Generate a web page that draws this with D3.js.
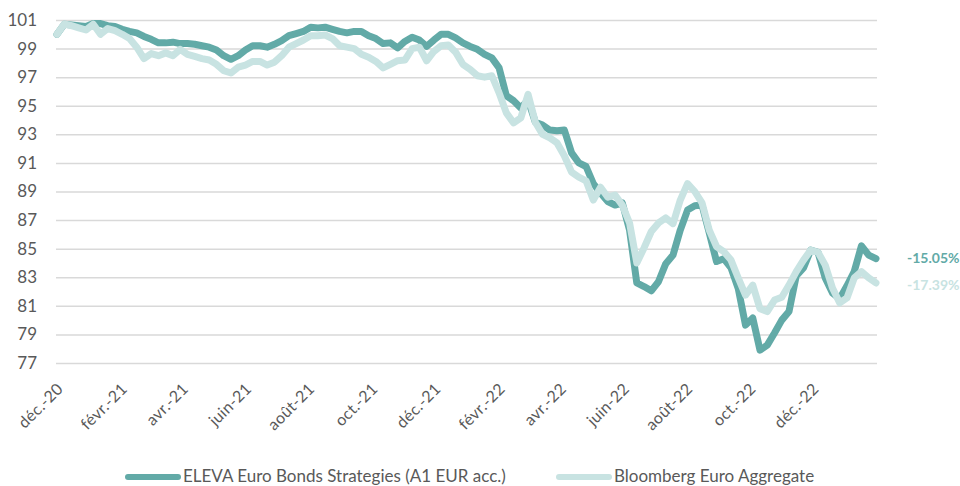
<!DOCTYPE html>
<html>
<head>
<meta charset="utf-8">
<script src="https://cdn.jsdelivr.net/npm/d3@7"></script>
<style>
  body { margin: 0; background: #fff; }
  text { font-family: Lato, "Open Sans", sans-serif; }
</style>
</head>
<body>
<div id="graph_plot"></div>
<script>
// weekly values, first point = 1 Dec 2020
var startDate = new Date(2020, 11, 1);
var endDate = new Date(2023, 1, 1);

var eleva = [
  100.0, 100.7, 100.65, 100.6, 100.55, 100.75, 100.75, 100.6, 100.55, 100.35,
  100.2, 100.1, 99.85, 99.65, 99.4, 99.4, 99.45, 99.35, 99.35, 99.3,
  99.2, 99.1, 98.9, 98.5, 98.25, 98.5, 98.9, 99.2, 99.2, 99.1,
  99.3, 99.55, 99.9, 100.05, 100.2, 100.5, 100.45, 100.5, 100.35, 100.2,
  100.1, 100.2, 100.2, 99.9, 99.7, 99.35, 99.4, 99.05, 99.5, 99.8,
  99.6, 99.15, 99.6, 100.0, 100.0, 99.75, 99.4, 99.15, 98.95, 98.6,
  98.35, 97.65, 95.7, 95.35, 94.85, 95.4, 93.85, 93.65, 93.3, 93.25,
  93.3, 91.7, 91.0, 90.75, 89.55, 88.9, 88.3, 88.05, 88.2, 86.3,
  82.6, 82.35, 82.05, 82.7, 83.95, 84.55, 86.3, 87.7, 88.0, 88.05,
  86.1, 84.1, 84.3, 83.65, 82.2, 79.65, 80.15, 77.9, 78.25, 79.1,
  80.0, 80.6, 83.1, 83.65, 84.9, 84.75, 82.95, 81.9, 81.5, 82.4,
  83.4, 85.2, 84.55, 84.3
];

var bloomberg = [
  100.0, 100.72, 100.6, 100.45, 100.3, 100.7, 100.0, 100.4, 100.25, 100.0,
  99.7, 99.1, 98.3, 98.65, 98.5, 98.7, 98.5, 98.95, 98.6, 98.45,
  98.3, 98.2, 97.9, 97.45, 97.3, 97.7, 97.85, 98.1, 98.1, 97.85,
  98.05, 98.5, 99.1, 99.35, 99.6, 99.9, 99.9, 99.95, 99.7, 99.2,
  99.1, 99.0, 98.6, 98.4, 98.1, 97.65, 97.9, 98.15, 98.2, 99.0,
  99.1, 98.15, 98.8, 99.2, 99.25, 98.75, 97.9, 97.55, 97.1, 97.0,
  97.1, 95.9, 94.5, 93.8, 94.15, 95.8, 93.85, 93.0, 92.75, 92.4,
  91.5, 90.35, 90.0, 89.75, 88.4, 89.3, 88.6, 88.75, 88.05, 86.8,
  84.0, 85.05, 86.2, 86.8, 87.15, 86.75, 88.4, 89.55, 89.0, 88.2,
  86.3, 85.15, 84.8, 84.2, 82.95, 81.75, 82.45, 80.8, 80.6, 81.4,
  81.6, 82.45, 83.4, 84.2, 84.9, 84.75, 83.85, 82.25, 81.2, 81.55,
  82.95, 83.4, 82.95, 82.6
];

var seriesNames = ["ELEVA Euro Bonds Strategies (A1 EUR acc.)", "Bloomberg Euro Aggregate"];
var endLabels = ["-15.05%", "-17.39%"];
var yTicks = [77, 79, 81, 83, 85, 87, 89, 91, 93, 95, 97, 99, 101];
var monthLabels = ["déc.-20", "févr.-21", "avr.-21", "juin-21", "août-21", "oct.-21", "déc.-21",
  "févr.-22", "avr.-22", "juin-22", "août-22", "oct.-22", "déc.-22"];

var dark = "#62aaa7", light = "#c8e3e2", grey = "#595959";

var W = 960, H = 486;
var svg = d3.select("#graph_plot").append("svg")
    .attr("width", W)
    .attr("height", H);

var x = d3.scaleTime().domain([startDate, endDate]).range([57, 877]);
var y = d3.scaleLinear().domain([77, 101]).range([363, 20]);

var dates = eleva.map((d, i) => d3.timeDay.offset(startDate, 7 * i));
var rows = dates.map((d, i) => ({ date: d, a: eleva[i], b: bloomberg[i] }));

// gridlines + y labels
var yAxis = svg.append("g")
    .attr("transform", "translate(56,0)")
    .call(d3.axisLeft(y).tickValues(yTicks).tickSize(-821).tickPadding(19));
yAxis.select(".domain").remove();
yAxis.selectAll(".tick line").attr("stroke", "#d9d9d9").attr("stroke-width", 1.5);
yAxis.selectAll(".tick text")
    .attr("fill", grey)
    .style("font-size", "17px")
    .style("font-family", "Lato, sans-serif");

// x labels, every 2 months
var tickDates = monthLabels.map((m, i) => d3.timeMonth.offset(startDate, 2 * i));
svg.append("g").selectAll("text")
    .data(tickDates)
    .join("text")
    .attr("transform", d => `translate(${x(d) + 7},${390}) rotate(-45)`)
    .attr("text-anchor", "end")
    .attr("fill", grey)
    .style("font-size", "16px")
    .style("letter-spacing", "0.3px")
    .text((d, i) => monthLabels[i]);

var lineA = d3.line().x(d => x(d.date)).y(d => y(d.a));
var lineB = d3.line().x(d => x(d.date)).y(d => y(d.b));

svg.append("path")
    .datum(rows)
    .attr("fill", "none")
    .attr("stroke", dark)
    .attr("stroke-width", 7)
    .attr("stroke-linejoin", "round")
    .attr("stroke-linecap", "round")
    .attr("d", lineA);

svg.append("path")
    .datum(rows)
    .attr("fill", "none")
    .attr("stroke", light)
    .attr("stroke-width", 7)
    .attr("stroke-linejoin", "round")
    .attr("stroke-linecap", "round")
    .attr("d", lineB);

// end labels
var last = rows[rows.length - 1];
svg.append("text")
    .attr("x", 907).attr("y", y(last.a) + 4)
    .attr("fill", dark)
    .style("font-size", "14px").style("font-weight", "bold")
    .text(endLabels[0]);
svg.append("text")
    .attr("x", 907).attr("y", y(last.b) + 7)
    .attr("fill", light)
    .style("font-size", "14px").style("font-weight", "bold")
    .text(endLabels[1]);

// legend
var legend = [{ name: seriesNames[0], color: dark, x: 128 }, { name: seriesNames[1], color: light, x: 559 }];
var lg = svg.append("g").selectAll("g").data(legend).join("g")
    .attr("transform", d => `translate(${d.x},477)`);
lg.append("line")
    .attr("x1", 0).attr("x2", 50)
    .attr("stroke", d => d.color)
    .attr("stroke-width", 6)
    .attr("stroke-linecap", "round");
lg.append("text")
    .attr("x", 55).attr("y", 5)
    .attr("fill", grey)
    .style("font-size", "17px")
    .text(d => d.name);
</script>
</body>
</html>
